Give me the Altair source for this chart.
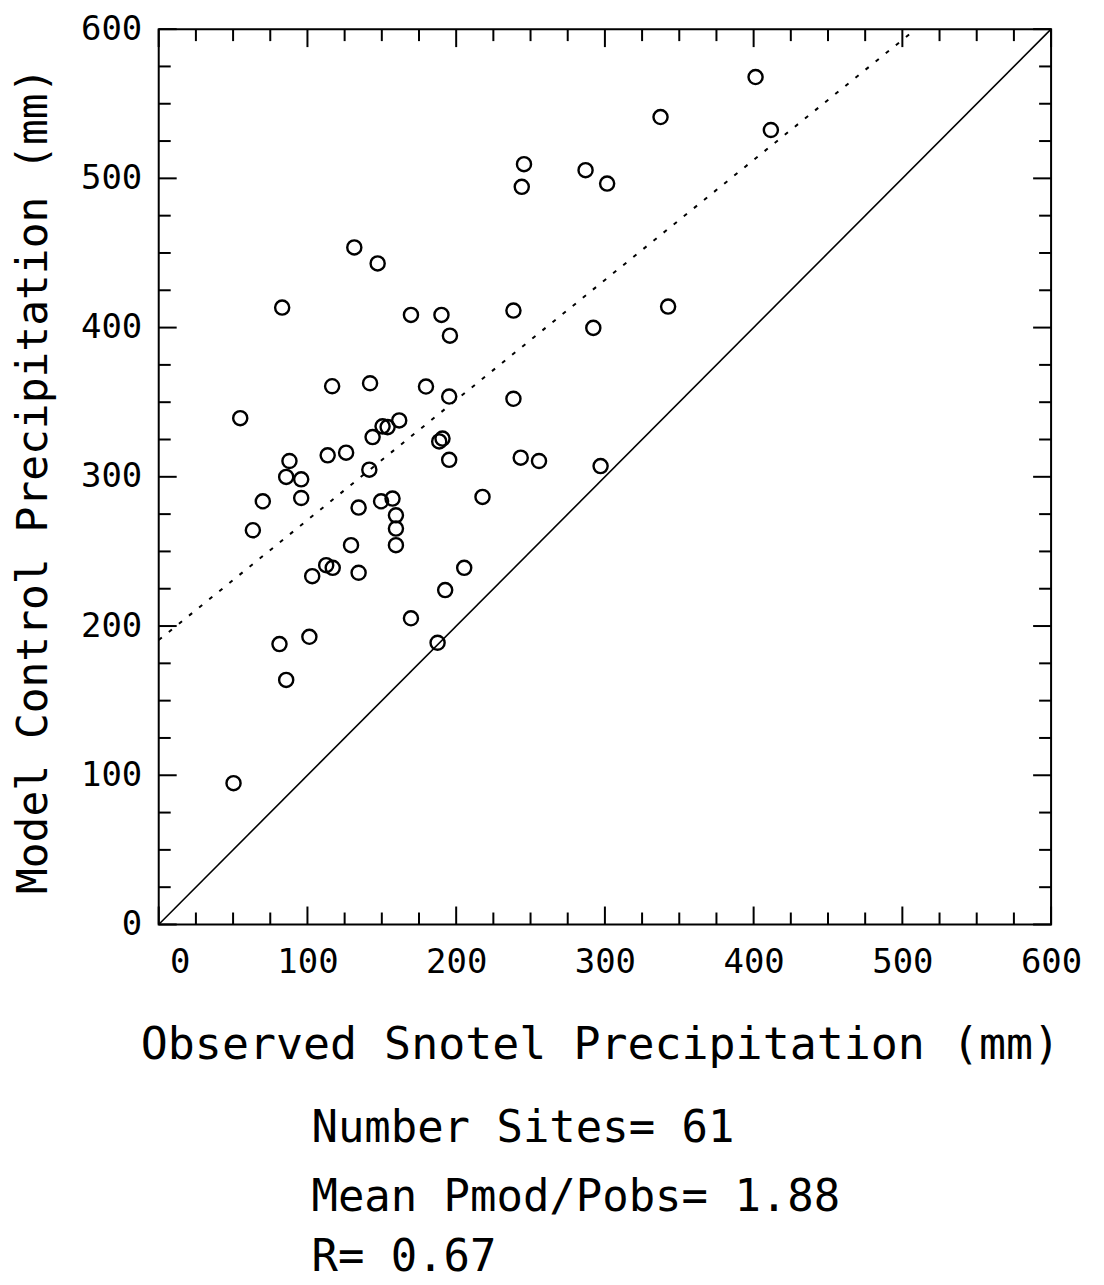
import altair as alt
import pandas as pd

# ---- data ----
obs = [401.3, 337.4, 411.6, 245.6, 244.1, 287.0, 301.5, 131.5, 147.2, 83.0,
       169.6, 190.1, 195.8, 238.5, 342.5, 292.2, 116.6, 142.1, 179.7, 195.3,
       238.5, 54.8, 161.7, 150.5, 153.9, 143.8, 190.8, 188.6, 113.6, 126.0,
       195.3, 243.4, 255.7, 297.1, 87.9, 85.7, 95.8, 141.6, 70.0, 95.8,
       134.4, 149.5, 157.2, 217.7, 159.5, 63.3, 159.5, 159.5, 129.3, 112.6,
       117.0, 103.2, 134.4, 205.4, 192.6, 169.6, 101.3, 81.2, 187.5, 85.7,
       50.3]
mod = [567.9, 541.1, 532.4, 509.5, 494.3, 505.5, 496.5, 453.7, 443.0, 413.4,
       408.5, 408.5, 394.6, 411.4, 414.1, 399.8, 360.7, 362.7, 360.5, 353.8,
       352.3, 339.3, 337.8, 333.8, 333.3, 326.6, 325.6, 323.7, 314.4, 316.2,
       311.4, 312.8, 310.6, 307.2, 310.6, 299.9, 298.3, 304.8, 283.6, 285.8,
       279.4, 283.6, 285.4, 286.5, 274.2, 264.2, 265.3, 254.2, 254.2, 240.8,
       239.0, 233.4, 235.7, 239.0, 224.1, 205.2, 192.8, 187.9, 188.8, 163.9,
       94.7]

one_x = [0, 600]
one_y = [0, 600]
fit_x = [0, 509]
fit_y = [190.6, 600]

major_ticks = [0, 100, 200, 300, 400, 500, 600]
minor_ticks = [25, 50, 75, 125, 150, 175, 225, 250, 275, 325, 350, 375,
               425, 450, 475, 525, 550, 575]

x_title = "Observed Snotel Precipitation (mm)"
y_title = "Model Control Precipitation (mm)"
stats_lines = ["Number Sites= 61", "Mean Pmod/Pobs= 1.88", "R= 0.67"]

# ---- layout / style ----
W, H = 894, 897
FONT = "DejaVu Sans Mono"
MAJOR_LEN, MINOR_LEN = 18, 12

xs = alt.Scale(domain=[0, 600], nice=False, zero=False)
ys = alt.Scale(domain=[0, 600], nice=False, zero=False)

x_axis = alt.Axis(
    values=major_ticks, ticks=False, domain=False, grid=False, format="d",
    labelFont=FONT, labelFontSize=34, labelColor="black", labelPadding=21,
    labelFlush=False, labelOverlap=False,
    labelOffset={"condition": {"test": "datum.value === 0", "value": 21}, "value": 0},
    titleFont=FONT, titleFontSize=45, titleFontWeight="normal",
    titleColor="black", titleX=442, titleY=134, titleBaseline="alphabetic",
    titleAlign="center",
)
y_axis = alt.Axis(
    values=major_ticks, ticks=False, domain=False, grid=False, format="d",
    labelFont=FONT, labelFontSize=34, labelColor="black", labelPadding=17,
    labelOverlap=False,
    titleFont=FONT, titleFontSize=43, titleFontWeight="normal",
    titleColor="black", titleX=-112, titleY=452, titleAngle=270,
    titleBaseline="alphabetic", titleAlign="center",
)


def X(field):
    return alt.X(f"{field}:Q", scale=xs, axis=x_axis, title=x_title)


def Y(field):
    return alt.Y(f"{field}:Q", scale=ys, axis=y_axis, title=y_title)


pts_df = pd.DataFrame({"obs": obs, "mod": mod})

points = alt.Chart(pts_df).mark_point(
    shape="circle", filled=False, size=200, strokeWidth=2.4, color="black", opacity=1
).encode(x=X("obs"), y=Y("mod"))

one_line = alt.Chart(pd.DataFrame({"x": one_x, "y": one_y})).mark_line(
    color="black", strokeWidth=1.6
).encode(x=X("x"), y=Y("y"))

fit_line = alt.Chart(pd.DataFrame({"x": fit_x, "y": fit_y})).mark_line(
    color="black", strokeWidth=2, strokeDash=[4, 9]
).encode(x=X("x"), y=Y("y"))

layers = [points, fit_line, one_line]

for ticks, L in [(major_ticks, MAJOR_LEN), (minor_ticks, MINOR_LEN)]:
    tdf = pd.DataFrame({"v": ticks})
    base = alt.Chart(tdf).mark_rule(color="black", strokeWidth=2)
    layers.append(base.encode(x=X("v"), y=alt.value(H), y2=alt.value(H - L)))
    layers.append(base.encode(x=X("v"), y=alt.value(0), y2=alt.value(L)))
    layers.append(base.encode(y=Y("v"), x=alt.value(0), x2=alt.value(L)))
    layers.append(base.encode(y=Y("v"), x=alt.value(W), x2=alt.value(W - L)))

stat_y = [1115, 1184, 1244]
for line, yy in zip(stats_lines, stat_y):
    layers.append(
        alt.Chart(pd.DataFrame({"t": [line]})).mark_text(
            font=FONT, fontSize=44, color="black", align="left",
            baseline="alphabetic"
        ).encode(x=alt.value(153), y=alt.value(yy), text="t:N")
    )

chart = alt.layer(*layers).properties(
    width=W, height=H,
    autosize=alt.AutoSizeParams(type="none"),
    padding={"left": 151, "top": 20, "right": 45, "bottom": 358},
    background="white",
).configure_view(stroke="black", strokeWidth=2)

chart.save("out.html", embed_options={"renderer": "svg", "actions": False})
